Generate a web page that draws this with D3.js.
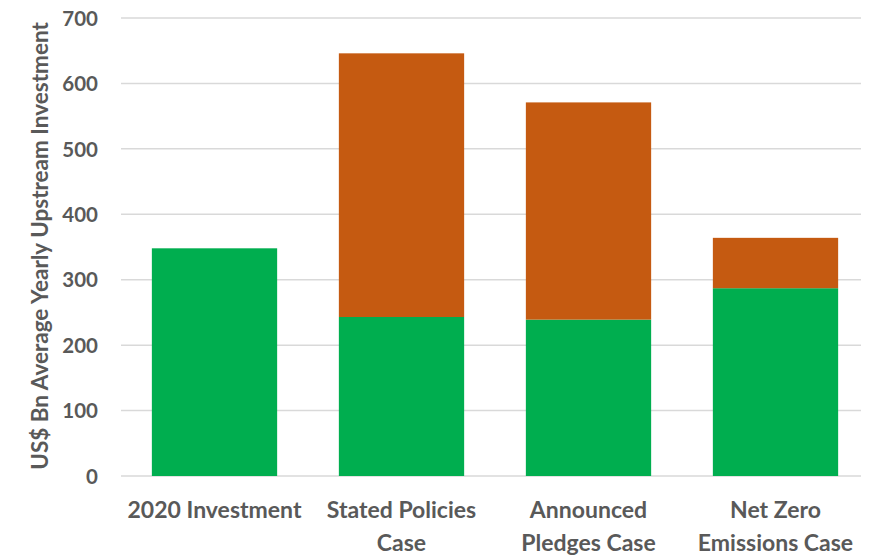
<!DOCTYPE html>
<html lang="en">
<head>
<meta charset="UTF-8">
<title>Upstream Investment</title>
<style>
  body { margin: 0; background: #fff; }
  svg { display: block; }
  text { font-family: Lato, 'Open Sans', sans-serif; font-weight: bold; fill: #595959; }
</style>
<script src="https://d3js.org/d3.v7.min.js"></script>
</head>
<body>
<svg id="chart" width="877" height="556"></svg>
<script>
  // data
  const categories = ["2020 Investment", "Stated Policies Case", "Announced Pledges Case", "Net Zero Emissions Case"];
  const labelLines = [["2020 Investment"], ["Stated Policies", "Case"], ["Announced", "Pledges Case"], ["Net Zero", "Emissions Case"]];
  const greenValues = [348, 243, 239, 287];
  const orangeValues = [0, 403, 332, 77];
  const yTicks = [0, 100, 200, 300, 400, 500, 600, 700];

  const svg = d3.select("#chart");
  const margin = {left: 121, right: 8, top: 18, bottom: 80};
  const width = 877, height = 556;

  const x = d3.scaleBand().domain(categories)
      .range([margin.left, width - margin.right])
      .paddingInner(0.33).paddingOuter(0.165);
  const y = d3.scaleLinear().domain([0, 700]).range([height - margin.bottom, margin.top]);

  // gridlines
  svg.append("g")
    .selectAll("line")
    .data(yTicks)
    .join("line")
      .attr("x1", margin.left)
      .attr("x2", width - margin.right - 8)
      .attr("y1", d => y(d))
      .attr("y2", d => y(d))
      .attr("stroke", "#d9d9d9")
      .attr("stroke-width", 1.5);

  // y axis labels
  const yAxis = svg.append("g")
      .attr("transform", `translate(${margin.left - 23},0)`)
      .call(d3.axisLeft(y).tickValues(yTicks).tickSize(0).tickPadding(0));
  yAxis.select(".domain").remove();
  yAxis.selectAll("text")
      .attr("font-size", 20.5)
      .attr("dy", "0.35em")
      .style("font-family", "Lato, 'Open Sans', sans-serif");

  const stacked = categories.map((c, i) => ({cat: c, g: greenValues[i], o: orangeValues[i]}));

  // green segment
  svg.append("g").selectAll("rect")
    .data(stacked)
    .join("rect")
      .attr("x", d => x(d.cat))
      .attr("width", x.bandwidth())
      .attr("y", d => y(d.g))
      .attr("height", d => y(0) - y(d.g))
      .attr("fill", "#00ae4f");

  // orange segment on top
  svg.append("g").selectAll("rect")
    .data(stacked.filter(d => d.o > 0))
    .join("rect")
      .attr("x", d => x(d.cat))
      .attr("width", x.bandwidth())
      .attr("y", d => y(d.g + d.o))
      .attr("height", d => y(d.g) - y(d.g + d.o))
      .attr("fill", "#c55a11");

  // category labels
  const catG = svg.append("g");
  categories.forEach((c, i) => {
    const t = catG.append("text")
      .attr("text-anchor", "middle")
      .attr("font-size", 23)
      .attr("x", x(c) + x.bandwidth() / 2)
      .attr("y", 518);
    labelLines[i].forEach((line, j) => {
      t.append("tspan")
        .attr("x", x(c) + x.bandwidth() / 2)
        .attr("dy", j === 0 ? 0 : 33)
        .text(line);
    });
  });

  // y title
  svg.append("text")
    .attr("transform", `translate(48,${(margin.top + height - margin.bottom) / 2 - 1}) rotate(-90)`)
    .attr("text-anchor", "middle")
    .attr("font-size", 22.5)
    .text("US$ Bn Average Yearly Upstream Investment");
</script>
</body>
</html>
